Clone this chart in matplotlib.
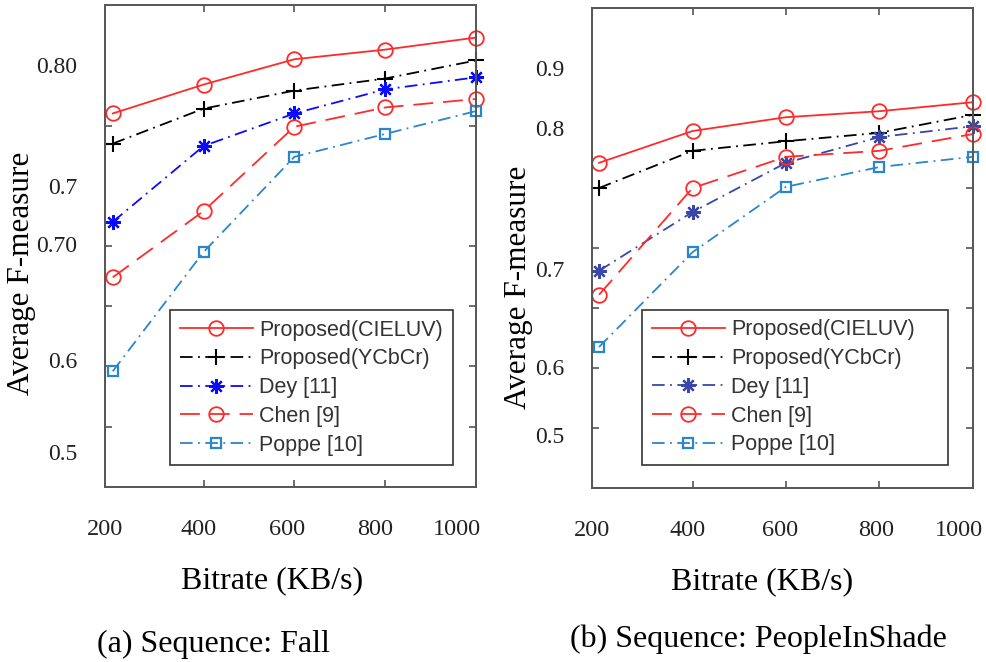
import numpy as np
import matplotlib.pyplot as plt

#==============================================================================
# data
#==============================================================================

bitrate = [200, 400, 600, 800, 1000]

names = ['Proposed(CIELUV)', 'Proposed(YCbCr)', 'Dey [11]', 'Chen [9]', 'Poppe [10]']

# (a) Sequence: Fall
fall_cieluv = [0.760, 0.784, 0.805, 0.813, 0.823]
fall_ycbcr  = [0.735, 0.764, 0.779, 0.789, 0.804]
fall_dey    = [0.670, 0.733, 0.760, 0.780, 0.790]
fall_chen   = [0.624, 0.679, 0.749, 0.765, 0.772]
fall_poppe  = [0.546, 0.645, 0.724, 0.743, 0.762]

# (b) Sequence: PeopleInShade
shade_cieluv = [0.742, 0.795, 0.818, 0.828, 0.843]
shade_ycbcr  = [0.700, 0.762, 0.778, 0.792, 0.822]
shade_dey    = [0.562, 0.660, 0.742, 0.785, 0.803]
shade_chen   = [0.522, 0.700, 0.752, 0.762, 0.790]
shade_poppe  = [0.435, 0.593, 0.702, 0.735, 0.752]

# tick labels as printed
fall_ylabels  = ['0.80', '0.7', '0.70', '0.6', '0.5']
fall_ylabpos  = [0.800, 0.700, 0.652, 0.555, 0.479]
shade_ylabels = ['0.9', '0.8', '0.7', '0.6', '0.5']
shade_ylabpos = [0.900, 0.800, 0.565, 0.402, 0.288]
xlabels       = ['200', '400', '600', '800', '1000']
fall_xlabpos  = [183, 390, 584, 778, 959]
shade_xlabpos = [185, 389, 588, 792, 969]

#==============================================================================
# styles
#==============================================================================

red   = '#ff2a2a'
blue  = '#0a0aff'
slate = '#3a46a8'
sky   = '#2a86cc'

dashdot = (7, 3, 1, 3)
dashed  = (11, 5.5)

serif = 'Liberation Serif'
sans  = 'Liberation Sans'

def series_styles(dey_color):
    return [
        dict(color=red, ls='-', marker='o', mfc='none', mew=1.3),
        dict(color='k', dashes=dashdot, marker='+', ms=12, mew=1.5),
        dict(color=dey_color, dashes=dashdot, marker=(8, 2, 0), ms=10.5, mew=1.6),
        dict(color=red, dashes=dashed, marker='o', mfc='none', mew=1.3),
        dict(color=sky, dashes=dashdot, marker='s', ms=7.5, mfc='none', mew=1.6),
    ]


def draw_panel(ax, series, styles, ylim, minor_y, ylabpos, ylabels, xlabpos,
               leg_anchor):
    for vals, name, st in zip(series, names, styles):
        kw = dict(lw=1.3, ms=10.5)
        kw.update(st)
        ax.plot(bitrate, vals, label=name, clip_on=False, **kw)

    ax.set_xlim(200, 1000)
    ax.set_ylim(*ylim)

    # printed labels (no marks) + inward tick marks
    ax.set_yticks(ylabpos)
    ax.set_yticklabels(ylabels, family=serif, fontsize=17, color='#222')
    ax.set_xticks(xlabpos)
    ax.set_xticklabels(xlabels, family=serif, fontsize=17.5, color='#222')
    ax.tick_params(which='major', length=0)
    ax.tick_params(axis='y', which='major', pad=20)
    ax.tick_params(axis='x', which='major', pad=23)
    ax.set_yticks(minor_y, minor=True)
    ax.set_xticks([400, 600, 800], minor=True)
    ax.tick_params(which='minor', direction='in', length=5, width=1.2,
                   color='#555', top=True, right=True)

    for sp in ax.spines.values():
        sp.set_color('#555')
        sp.set_linewidth(1.4)

    ax.set_xlabel('Bitrate (KB/s)', family=serif, fontsize=23)
    ax.set_ylabel('Average F-measure', family=serif, fontsize=22.5)

    leg = ax.legend(loc='lower left', bbox_to_anchor=leg_anchor,
                    mode='expand', prop={'family': sans, 'size': 15.5},
                    handlelength=3.4, handletextpad=0.3, labelspacing=0.36,
                    borderpad=0.45, borderaxespad=0, fancybox=False,
                    framealpha=1, edgecolor='#333')
    leg.get_frame().set_linewidth(1.2)
    for t in leg.get_texts():
        t.set_color('#333')
    return leg


fig = plt.figure(figsize=(9.87, 6.62), dpi=100)

ax1 = fig.add_axes([0.1064, 0.2644, 0.3759, 0.728])
ax2 = fig.add_axes([0.5998, 0.2628, 0.3860, 0.7251])

draw_panel(ax1,
           [fall_cieluv, fall_ycbcr, fall_dey, fall_chen, fall_poppe],
           series_styles(blue), (0.45, 0.85),
           [0.50, 0.55, 0.60, 0.65, 0.70, 0.75, 0.80],
           fall_ylabpos, fall_ylabels, fall_xlabpos,
           (0.175, 0.045, 0.763, 0.33))
ax1.yaxis.set_label_coords(-0.186, 0.444)
ax1.xaxis.set_label_coords(0.45, -0.165)

draw_panel(ax2,
           [shade_cieluv, shade_ycbcr, shade_dey, shade_chen, shade_poppe],
           series_styles(slate), (0.2, 1.0),
           [0.3, 0.4, 0.5, 0.6, 0.7, 0.8, 0.9],
           shade_ylabpos, shade_ylabels, shade_xlabpos,
           (0.131, 0.048, 0.803, 0.317))
ax2.yaxis.set_label_coords(-0.155, 0.419)
ax2.xaxis.set_label_coords(0.446, -0.165)

# captions
fig.text(0.216, 0.026, '(a) Sequence: Fall', family=serif, fontsize=23,
         ha='center', va='center')
fig.text(0.768, 0.034, '(b) Sequence: PeopleInShade', family=serif,
         fontsize=23, ha='center', va='center')

fig.savefig('out.png', dpi=100)
